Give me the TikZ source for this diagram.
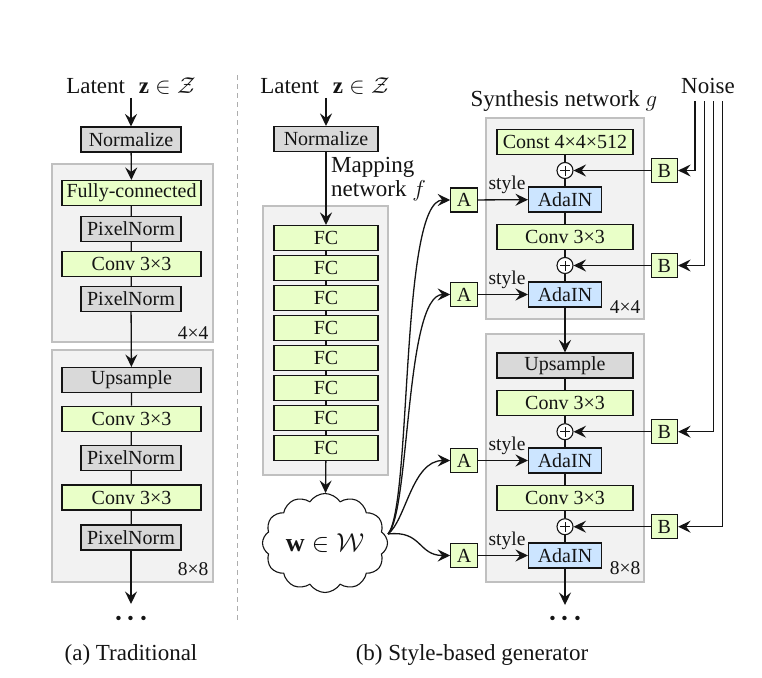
\RequirePackage{fix-cm}
\documentclass[tikz,border=0pt]{standalone}
\usepackage{fontspec}
\setmainfont{Liberation Serif}
\usetikzlibrary{arrows.meta,shapes.symbols}
\definecolor{boxgreen}{RGB}{233,255,200}
\definecolor{boxgray}{RGB}{217,217,217}
\definecolor{boxblue}{RGB}{204,229,255}
\definecolor{panelfill}{RGB}{242,242,242}
\definecolor{panelline}{RGB}{192,192,192}
\definecolor{ink}{RGB}{20,20,20}

\begin{document}
\begin{tikzpicture}[x=1pt,y=-1pt,
  every node/.style={font=\fontsize{20}{24}\selectfont, text=ink},
  lbl/.style={font=\fontsize{23}{24.5}\selectfont},
  small/.style={font=\fontsize{19.5}{23}\selectfont},
  blk/.style={draw=ink, line width=1.1pt, minimum height=25pt, inner sep=0pt},
  gbox/.style={blk, fill=boxgreen},
  graybox/.style={blk, fill=boxgray},
  bluebox/.style={blk, fill=boxblue, minimum width=73pt},
  sq/.style={blk, fill=boxgreen, minimum width=26.5pt, minimum height=24pt},
  panel/.style={draw=panelline, fill=panelfill, line width=1.1pt},
  conn/.style={draw=ink, line width=1.3pt},
  arr/.style={conn, -{Stealth[length=12.5pt,width=12pt,inset=4.5pt]}},
  oplus/.style={circle, draw=ink, fill=white, line width=1.1pt, minimum size=16pt, inner sep=0pt,
    path picture={\draw[line width=0.9pt]
      ([xshift=-5pt]path picture bounding box.center) -- ([xshift=5pt]path picture bounding box.center)
      ([yshift=-5pt]path picture bounding box.center) -- ([yshift=5pt]path picture bounding box.center);}},
  dotsnode/.style={font=\fontsize{28}{30}\selectfont\boldmath},
  cloudnode/.style={cloud, draw=ink, fill=white, line width=1.1pt, cloud puffs=12, cloud puff arc=115,
    aspect=1.3, minimum width=125pt, minimum height=99pt, inner sep=0pt,
    font=\fontsize{26}{28}\selectfont}
]
\useasboundingbox (0,0) rectangle (762,677);

% separator between the two variants
\draw[panelline!90!black, line width=1pt, dash pattern=on 5pt off 4pt] (237,75) -- (237,620);

%% ---------------- (a) Traditional ----------------
\draw[panel] (52,164) rectangle (213,342);
\draw[panel] (52,350) rectangle (213,582);

\node[lbl] (aLat) at (131,86) {Latent\hspace{0.6em}$\mathbf{z}\in\mathcal{Z}$};
\node[graybox, minimum width=100pt] (aN)  at (131,139.5) {Normalize};
\node[gbox, minimum width=139pt]    (aFC) at (131.5,193) {Fully-connected};
\node[graybox, minimum width=100pt] (aP1) at (131,229) {PixelNorm};
\node[gbox, minimum width=139pt]    (aC1) at (131.5,264) {Conv 3×3};
\node[graybox, minimum width=100pt] (aP2) at (131,299) {PixelNorm};
\node[small] (a44) at (193,333) {4×4};

\node[graybox, minimum width=139pt] (aU)  at (131.5,380) {Upsample};
\node[gbox, minimum width=139pt]    (aC2) at (131.5,418.7) {Conv 3×3};
\node[graybox, minimum width=100pt] (aP3) at (131,458) {PixelNorm};
\node[gbox, minimum width=139pt]    (aC3) at (131.5,497.5) {Conv 3×3};
\node[graybox, minimum width=100pt] (aP4) at (131,537.5) {PixelNorm};
\node[small] (a88) at (193,569) {8×8};
\coordinate (aEnd) at (131,604);
\node[dotsnode] (aDots) at (131.5,619) {$\mathord{\cdot}\mkern2mu\mathord{\cdot}\mkern2mu\mathord{\cdot}$};
\node[lbl] (aCap) at (131,655) {(a) Traditional};

\draw[arr] (aN.north |- aLat.south) -- (aN.north);
\draw[arr] (aN) -- (aFC);
\draw[conn] (aFC) -- (aP1) (aP1) -- (aC1) (aC1) -- (aP2);
\draw[arr] (aP2) -- (aU);
\draw[conn] (aU) -- (aC2) (aC2) -- (aP3) (aP3) -- (aC3) (aC3) -- (aP4);
\draw[arr] (aP4) -- (aEnd);

%% ---------------- (b) Style-based generator ----------------
% mapping network
\draw[panel] (263,206) rectangle (388,475);
\node[lbl] (bLat) at (325,86) {Latent\hspace{0.6em}$\mathbf{z}\in\mathcal{Z}$};
\node[graybox, minimum width=104pt] (bN) at (326,139) {Normalize};
\node[lbl, align=left, anchor=west, inner sep=0pt] (mapl) at (331,179) {Mapping\\network $f$};
\foreach \i in {1,...,8}{
  \node[gbox, minimum width=104pt] (fc\i) at (326,{238+30*(\i-1)}) {FC};
}
\node[cloudnode] (w) at (325,543) {$\mathbf{w}\in\mathcal{W}$};
\coordinate (wout) at (388,534);

\draw[arr] (bN.north |- bLat.south) -- (bN.north);
\draw[arr] (bN) -- (fc1);
\foreach \i [evaluate=\i as \j using int(\i+1)] in {1,...,7}{
  \draw[conn] (fc\i) -- (fc\j);
}
\draw[arr] (fc8) -- (w);

% synthesis network
\draw[panel] (486,118) rectangle (644,319);
\draw[panel] (486,334) rectangle (644,582);
\node[lbl] (synl) at (564,101) {Synthesis network $g$};
\node[lbl] (noise) at (708,86) {Noise};

\node[gbox, minimum width=136pt] (const) at (565,142) {Const 4×4×512};
\node[oplus] (p1) at (565,170.5) {};
\node[bluebox] (ada1) at (565,199.5) {AdaIN};
\node[gbox, minimum width=136pt] (c1) at (565,236.7) {Conv 3×3};
\node[oplus] (p2) at (565,265.5) {};
\node[bluebox] (ada2) at (565,294.5) {AdaIN};
\node[small] (r44) at (625,307) {4×4};

\node[graybox, minimum width=136pt] (up) at (565,365.5) {Upsample};
\node[gbox, minimum width=136pt] (c2) at (565,403) {Conv 3×3};
\node[oplus] (p3) at (565,431.7) {};
\node[bluebox] (ada3) at (565,460.5) {AdaIN};
\node[gbox, minimum width=136pt] (c3) at (565,498) {Conv 3×3};
\node[oplus] (p4) at (565,526.7) {};
\node[bluebox] (ada4) at (565,555.5) {AdaIN};
\node[small] (r88) at (625,568) {8×8};
\coordinate (rEnd) at (565,605);
\node[dotsnode] (rDots) at (565,619) {$\mathord{\cdot}\mkern2mu\mathord{\cdot}\mkern2mu\mathord{\cdot}$};
\node[lbl] (bCap) at (472,655) {(b) Style-based generator};

\draw[conn] (const) -- (p1) (p1) -- (ada1) (ada1) -- (c1) (c1) -- (p2) (p2) -- (ada2);
\draw[arr] (ada2) -- (up);
\draw[conn] (up) -- (c2) (c2) -- (p3) (p3) -- (ada3) (ada3) -- (c3) (c3) -- (p4) (p4) -- (ada4);
\draw[arr] (ada4) -- (rEnd);

% learned affine transforms (A) and noise scaling (B)
\foreach \k/\y in {1/200, 2/294.5, 3/460.5, 4/555.5}{
  \node[sq] (A\k) at (464,\y) {A};
  \draw[arr] (A\k) -- (ada\k);
  \node[small] (st\k) at (507,\y-15) {style};
}
\foreach \k/\y/\x in {1/170.5/695, 2/265.5/704.3, 3/431.7/713.3, 4/526.7/722.3}{
  \node[sq] (B\k) at (664.3,\y) {B};
  \coordinate (n\k) at (\x,101);
  \draw[arr] (n\k) |- (B\k.east);
  \draw[arr] (B\k) -- (p\k);
}

% styles broadcast from w
\draw[arr] (wout) .. controls (412,505) and (400,200) .. (A1.west);
\draw[arr] (wout) .. controls (410,512) and (405,294.5) .. (A2.west);
\draw[arr] (wout) .. controls (406,520) and (412,460.5) .. (A3.west);
\draw[arr] (wout) .. controls (422,530) and (418,555.5) .. (A4.west);
\end{tikzpicture}
\end{document}
